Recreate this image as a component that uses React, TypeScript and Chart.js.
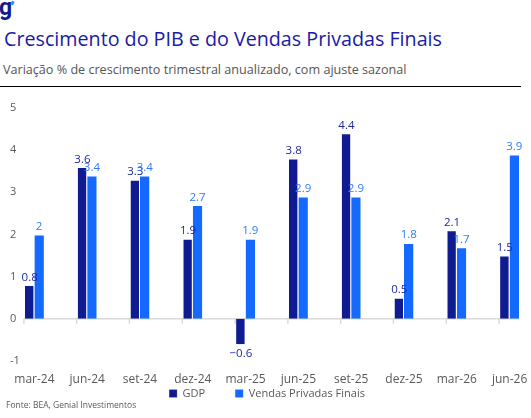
import { useEffect, useRef } from "react";
import Chart from "chart.js/auto";

const quarters = ["mar-24", "jun-24", "set-24", "dez-24", "mar-25", "jun-25", "set-25", "dez-25", "mar-26", "jun-26"];
const gdp = [0.8, 3.6, 3.3, 1.9, -0.6, 3.8, 4.4, 0.5, 2.1, 1.5];
const vendasPrivadas = [2, 3.4, 3.4, 2.7, 1.9, 2.9, 2.9, 1.8, 1.7, 3.9];

const NAVY = "#0f1c91";
const BLUE = "#1469ff";
const FONT = "'Open Sans', 'Noto Sans', sans-serif";

// eixo do zero com marcas, como no gráfico original
const zeroLine = {
  id: "zeroLine",
  beforeDatasetsDraw(chart: any) {
    const y = chart.scales.y.getPixelForValue(0);
    const m0 = chart.getDatasetMeta(0).data;
    const m1 = chart.getDatasetMeta(1).data;
    if (!m0.length) return;
    const ctx = chart.ctx;
    ctx.save();
    ctx.strokeStyle = "#d9d9d9";
    ctx.lineWidth = 1.5;
    ctx.beginPath();
    ctx.moveTo(m0[0].x - m0[0].width / 2 - 1, y);
    ctx.lineTo(m1[m1.length - 1].x + m1[m1.length - 1].width / 2, y);
    m0.forEach((b: any) => {
      const x = b.x - b.width / 2 - 1;
      ctx.moveTo(x, y);
      ctx.lineTo(x, y + 5);
    });
    ctx.stroke();
    ctx.restore();
  },
};

// rótulos de valor acima das barras
const valueLabels = {
  id: "valueLabels",
  afterDatasetsDraw(chart: any) {
    const ctx = chart.ctx;
    ctx.save();
    ctx.font = `11.5px ${FONT}`;
    ctx.textAlign = "center";
    chart.data.datasets.forEach((ds: any, i: number) => {
      ctx.fillStyle = i === 0 ? "#1c2a9a" : "#2f7bff";
      chart.getDatasetMeta(i).data.forEach((bar: any, j: number) => {
        const v = ds.data[j];
        if (v < 0) {
          ctx.textBaseline = "top";
          ctx.fillText(String(v).replace("-", "−"), bar.x, bar.y + 4);
        } else {
          ctx.textBaseline = "bottom";
          ctx.fillText(String(v), bar.x, bar.y - 2);
        }
      });
    });
    ctx.restore();
  },
};

// legenda mais perto do eixo x (o padding da legenda serve para tudo)
const legendNudge = {
  id: "legendNudge",
  afterLayout(chart: any) {
    const lg = chart.legend;
    if (!lg) return;
    const dy = chart.chartArea.bottom - 3 - lg.top;
    lg.top += dy;
    lg.bottom += dy;
    lg.left -= 5;
    lg.right -= 5;
  },
};

export default function App() {
  const chartRef = useRef<HTMLCanvasElement>(null);

  useEffect(() => {
    if (!chartRef.current) return;
    const chart = new Chart(chartRef.current, {
      type: "bar",
      data: {
        labels: quarters,
        datasets: [
          {
            label: "GDP",
            data: gdp,
            backgroundColor: NAVY,
            borderColor: "rgba(255,255,255,0.35)",
            borderWidth: { top: 1, left: 0, right: 1, bottom: 0 },
            categoryPercentage: 0.36,
            barPercentage: 1,
          },
          {
            label: "Vendas Privadas Finais",
            data: vendasPrivadas,
            backgroundColor: BLUE,
            borderColor: "rgba(255,255,255,0.35)",
            borderWidth: { top: 1, left: 0, right: 0, bottom: 0 },
            categoryPercentage: 0.36,
            barPercentage: 1,
          },
        ],
      },
      options: {
        animation: false,
        responsive: false,
        layout: { padding: { left: 8, right: 0, top: 13, bottom: 0 } },
        scales: {
          x: {
            grid: { display: false },
            border: { display: false },
            afterFit: (s: any) => {
              s.height = 26;
            },
            ticks: { color: "#595959", font: { family: FONT, size: 12 }, padding: 3, maxRotation: 0 },
          },
          y: {
            min: -1,
            max: 5,
            grid: { display: false },
            border: { display: false },
            afterFit: (s: any) => {
              s.width = 0;
            },
            ticks: { stepSize: 1, mirror: true, padding: 2, color: "#595959", font: { family: FONT, size: 11 } },
          },
        },
        plugins: {
          legend: {
            position: "bottom",
            labels: {
              boxWidth: 8,
              boxHeight: 8,
              padding: 30,
              color: "#595959",
              font: { family: FONT, size: 11 },
            },
          },
          tooltip: { enabled: false },
        },
      },
      plugins: [zeroLine, valueLabels, legendNudge],
    });
    return () => chart.destroy();
  }, []);

  return (
    <div style={{ position: "fixed", left: 0, top: 0, width: 531, height: 418, background: "#fff", fontFamily: FONT, overflow: "hidden" }}>
      <div style={{ position: "absolute", left: -1, top: -6, fontSize: 23, fontWeight: 700, color: NAVY, fontFamily: "Roboto, sans-serif" }}>g</div>
      <div style={{ position: "absolute", left: 11, top: 1, width: 3, height: 4, background: "#2f8cff", borderRadius: 1, transform: "rotate(30deg)" }} />
      <div style={{ position: "absolute", left: 4, top: 25, fontSize: 19.7, color: "#1a1aa6", whiteSpace: "nowrap" }}>
        Crescimento do PIB e do Vendas Privadas Finais
      </div>
      <div style={{ position: "absolute", left: 3, top: 61, fontSize: 12.6, color: "#555", whiteSpace: "nowrap" }}>
        Variação % de crescimento trimestral anualizado, com ajuste sazonal
      </div>
      <div style={{ position: "absolute", left: 0, top: 86, width: 521, height: 1, background: "#000" }} />
      <canvas ref={chartRef} width={536} height={343} style={{ position: "absolute", left: 0, top: 95 }} />
      <div style={{ position: "absolute", left: 6, top: 399, fontSize: 8.5, color: "#595959", whiteSpace: "nowrap" }}>
        Fonte: BEA, Genial Investimentos
      </div>
    </div>
  );
}
